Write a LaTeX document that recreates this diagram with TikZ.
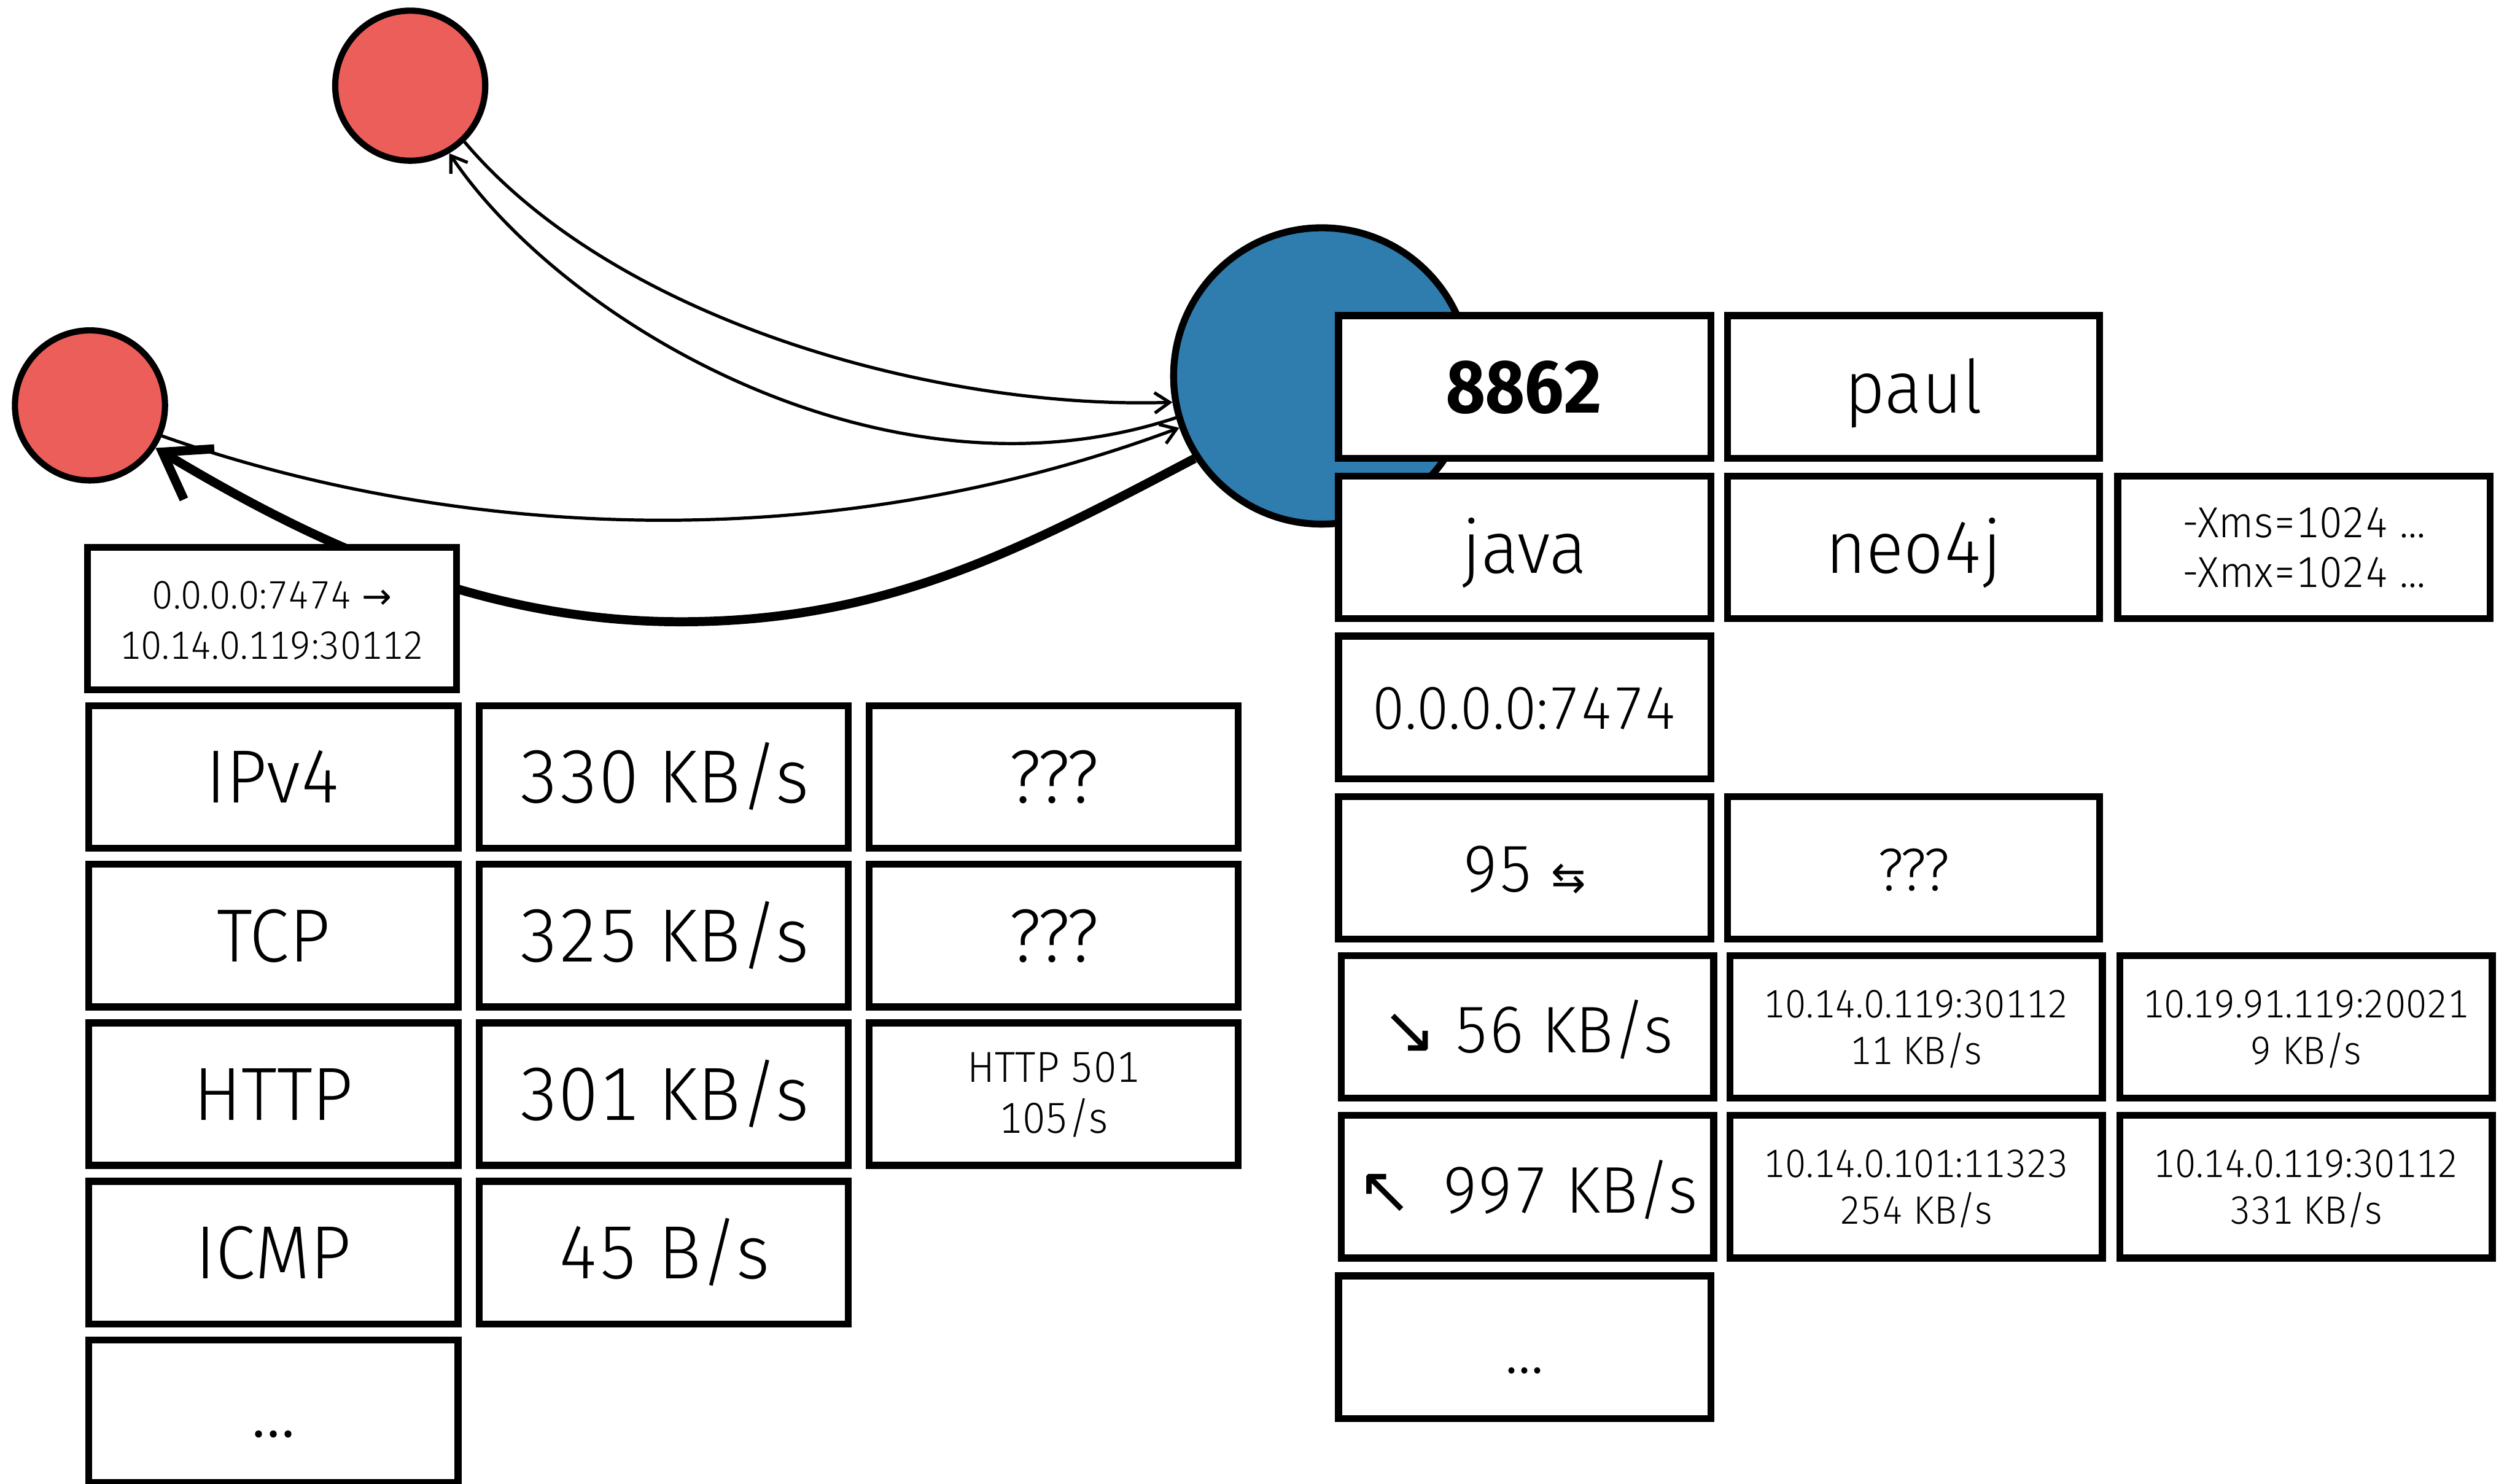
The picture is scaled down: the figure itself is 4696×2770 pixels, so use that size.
\documentclass[tikz,border=0pt]{standalone}
\usepackage{fontspec}
\setmainfont{Fira Sans}[FakeStretch=0.95, Numbers=Monospaced, UprightFont={* Light}, BoldFont={* Bold}]
\newfontfamily\symfont{DejaVu Sans}
\usetikzlibrary{arrows.meta}

\definecolor{peerred}{HTML}{EC5E5A}
\definecolor{hostblue}{HTML}{2F7CAE}

% two stacked lines, baseline on the first one
\newcommand{\duo}[2]{\begin{tabular}[t]{@{}c@{}}#1\\#2\end{tabular}}

\tikzset{
  cell/.style={draw=black, line width=3.7pt, fill=white, inner sep=0pt, outer sep=0pt,
    minimum height=2.66cm, text height=0.97cm, text depth=0pt},
  rcell/.style={cell, minimum width=6.95cm},
  lcell/.style={cell, minimum width=6.89cm},
  bigtext/.style={font=\fontsize{40}{48}\selectfont},
  medtext/.style={font=\fontsize{35}{42}\selectfont},
  pairtext/.style={text height=0.6cm, text depth=0.96cm},
  peer/.style={circle, draw=black, line width=3.3pt, fill=peerred, minimum size=2.8cm, inner sep=0pt},
  server/.style={circle, draw=black, line width=3.7pt, fill=hostblue, minimum size=5.53cm, inner sep=0pt},
  flow/.style={line width=1.7pt, -{Straight Barb[length=0.28cm, width=0.38cm]}},
  heavyflow/.style={line width=4.8pt, -{Straight Barb[length=0.8cm, width=1.1cm]}},
}

\begin{document}
\begin{tikzpicture}[x=0.01cm, y=-0.01cm]
  \useasboundingbox (0,0) rectangle (4696,2770);
  \fill[white] (0,0) rectangle (4696,2770);

  % hosts
  \node[peer] (peerA) at (766,160) {};
  \node[peer] (peerB) at (168,757) {};
  \node[server] (srv) at (2468,702) {};

  % traffic between the hosts
  \draw[flow] (peerA.-46) .. controls (1150,600) and (1750,765) .. (srv.190);
  \draw[flow] (srv.196) .. controls (1650,960) and (1050,600) .. (peerA.-60);
  \draw[flow] (peerB.-23) .. controls (800,990) and (1500,1060) .. (srv.200);
  \draw[heavyflow] (srv.213) .. controls (1900,1030) and (1650,1161) .. (1271,1161)
                   .. controls (900,1161) and (591,1017) .. (peerB.-33);

  % process details
  \node[rcell, font=\fontsize{39}{47}\selectfont\bfseries] (pid) at (2847,722.5) {8862};
  \node[rcell, font=\fontsize{39}{47}\selectfont] (user) at (3573,722.5) {paul};
  \node[rcell, font=\fontsize{39}{47}\selectfont] (exe) at (2847,1022) {java};
  \node[rcell, font=\fontsize{39}{47}\selectfont] (app) at (3573,1022) {neo4j};
  \node[rcell, pairtext, font=\fontsize{23}{26.5}\selectfont] (args) at (4302,1022)
       {\duo{-Xms=1024 ...}{-Xmx=1024 ...}};
  \node[rcell, font=\fontsize{32}{38}\selectfont, text height=0.8cm] (listen) at (2847,1321) {0.0.0.0:7474};
  \node[rcell, medtext, text height=0.9cm] (conns) at (2847,1620.5)
       {95 {\symfont\fontsize{22}{22}\selectfont ⇆}};
  \node[rcell, font=\fontsize{32}{38}\selectfont, text height=0.86cm] (connsx) at (3573,1620.5) {???};
  \node[rcell, medtext] (rx) at (2852,1917.5) {{\symfont ↘} 56 KB/s};
  \node[rcell, pairtext, text depth=0.95cm, font=\fontsize{21}{24.9}\selectfont] (rxa) at (3578,1917.5)
       {\duo{10.14.0.119:30112}{11 KB/s}};
  \node[rcell, pairtext, text depth=0.95cm, font=\fontsize{21}{24.9}\selectfont] (rxb) at (4306,1917.5)
       {\duo{10.19.91.119:20021}{9 KB/s}};
  \node[rcell, medtext] (tx) at (2852,2216) {{\symfont ↖}\hspace{0.2em} 997 KB/s};
  \node[rcell, pairtext, text depth=0.95cm, font=\fontsize{21}{24.9}\selectfont] (txa) at (3578,2216)
       {\duo{10.14.0.101:11323}{254 KB/s}};
  \node[rcell, pairtext, text depth=0.95cm, font=\fontsize{21}{24.9}\selectfont] (txb) at (4306,2216)
       {\duo{10.14.0.119:30112}{331 KB/s}};
  \node[rcell, medtext] (more) at (2847,2515.5) {...};

  % connection details
  \node[lcell, pairtext, font=\fontsize{21}{26.5}\selectfont] (sock) at (508,1155)
       {\duo{0.0.0.0:7474 {\symfont\fontsize{19}{19}\selectfont →}}{10.14.0.119:30112}};
  \node[lcell, bigtext] (ip) at (510.5,1451) {IPv4};
  \node[lcell, bigtext] (iprate) at (1239.5,1451) {330 KB/s};
  \node[lcell, bigtext] (ipx) at (1967.5,1451) {???};
  \node[lcell, bigtext] (tcp) at (510.5,1747) {TCP};
  \node[lcell, bigtext] (tcprate) at (1239.5,1747) {325 KB/s};
  \node[lcell, bigtext] (tcpx) at (1967.5,1747) {???};
  \node[lcell, bigtext] (http) at (510.5,2043) {HTTP};
  \node[lcell, bigtext] (httprate) at (1239.5,2043) {301 KB/s};
  \node[lcell, pairtext, text depth=1.04cm, font=\fontsize{23}{27}\selectfont] (httpx) at (1967.5,2043)
       {\duo{HTTP 501}{105/s}};
  \node[lcell, bigtext] (icmp) at (510.5,2339) {ICMP};
  \node[lcell, bigtext] (icmprate) at (1239.5,2339) {45 B/s};
  \node[lcell, bigtext] (proto) at (510.5,2635) {...};
\end{tikzpicture}
\end{document}
